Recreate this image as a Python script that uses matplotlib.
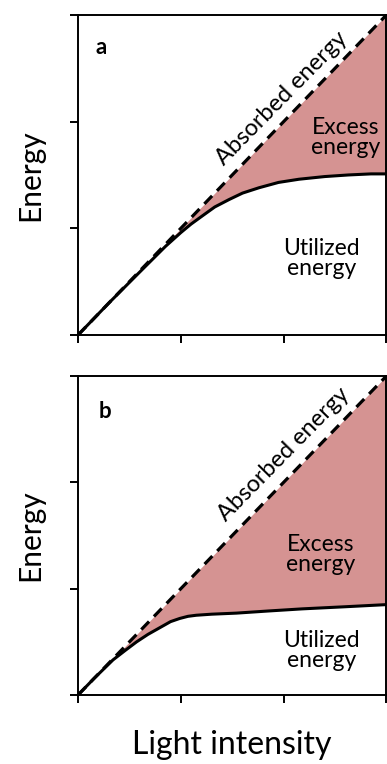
import matplotlib.pyplot as plt

plt.rcParams['font.family'] = ['Lato', 'DejaVu Sans']

# light intensity (x) and energy values
absorbed_x = [0, 3]
absorbed_y = [0, 3]

util_a_x = [0, 0.3, 0.6, 0.85, 1.0, 1.1, 1.2, 1.33, 1.47, 1.6, 1.76, 1.95, 2.15, 2.4, 2.63, 2.85, 3.0]
util_a_y = [0, 0.3, 0.59, 0.83, 0.96, 1.04, 1.11, 1.2, 1.27, 1.33, 1.38, 1.43, 1.46, 1.485, 1.5, 1.51, 1.51]

util_b_x = [0, 0.15, 0.34, 0.46, 0.57, 0.68, 0.79, 0.9, 0.99, 1.07, 1.15, 1.3, 1.54, 1.85, 2.18, 2.6, 3.0]
util_b_y = [0, 0.15, 0.33, 0.42, 0.5, 0.57, 0.63, 0.69, 0.72, 0.74, 0.75, 0.76, 0.77, 0.79, 0.81, 0.83, 0.85]

panels = ['a', 'b']
fill_col = '#d59392'

fig = plt.figure(figsize=(3.87, 7.64), dpi=100)
ax1 = fig.add_axes([0.2016, 0.5615, 0.797, 0.419])
ax2 = fig.add_axes([0.2016, 0.0903, 0.797, 0.4176])

text_pos = {
    'a': dict(excess=(2.6, 1.85), util=(2.37, 0.72), absorbed=(1.98, 2.22), letter=(0.075, 0.897)),
    'b': dict(excess=(2.36, 1.32), util=(2.37, 0.42), absorbed=(2.0, 2.26), letter=(0.088, 0.89)),
}

for ax, name, ux, uy in [(ax1, 'a', util_a_x, util_a_y), (ax2, 'b', util_b_x, util_b_y)]:
    ax.fill_between(ux, uy, ux, color=fill_col, lw=0)
    ax.plot(absorbed_x, absorbed_y, color='black', lw=2.3, ls=(0, (3.5, 2.2)))
    ax.plot(ux, uy, color='black', lw=2.2)
    ax.set_xlim(0, 3)
    ax.set_ylim(0, 3)
    ax.set_xticks([0, 1, 2, 3])
    ax.set_yticks([0, 1, 2, 3])
    ax.set_xticklabels([])
    ax.set_yticklabels([])
    ax.tick_params(direction='out', length=6, width=1.4)
    for s in ax.spines.values():
        s.set_linewidth(1.4)
    p = text_pos[name]
    ax.text(*p['excess'], 'Excess\nenergy', ha='center', va='center', fontsize=16.5, linespacing=0.95)
    ax.text(*p['util'], 'Utilized\nenergy', ha='center', va='center', fontsize=16.5, linespacing=0.95)
    ax.text(*p['absorbed'], 'Absorbed energy', ha='center', va='center', fontsize=17,
            rotation=45.5, rotation_mode='anchor')
    ax.text(*p['letter'], name, transform=ax.transAxes, ha='center', va='center',
            fontsize=16, fontweight='bold')

fig.text(0.0775, 0.771, 'Energy', rotation=90, ha='center', va='center', fontsize=21.5)
fig.text(0.0775, 0.2997, 'Energy', rotation=90, ha='center', va='center', fontsize=21.5)
fig.text(0.599, 0.025, 'Light intensity', ha='center', va='center', fontsize=23)

fig.savefig('out.png', dpi=100)
